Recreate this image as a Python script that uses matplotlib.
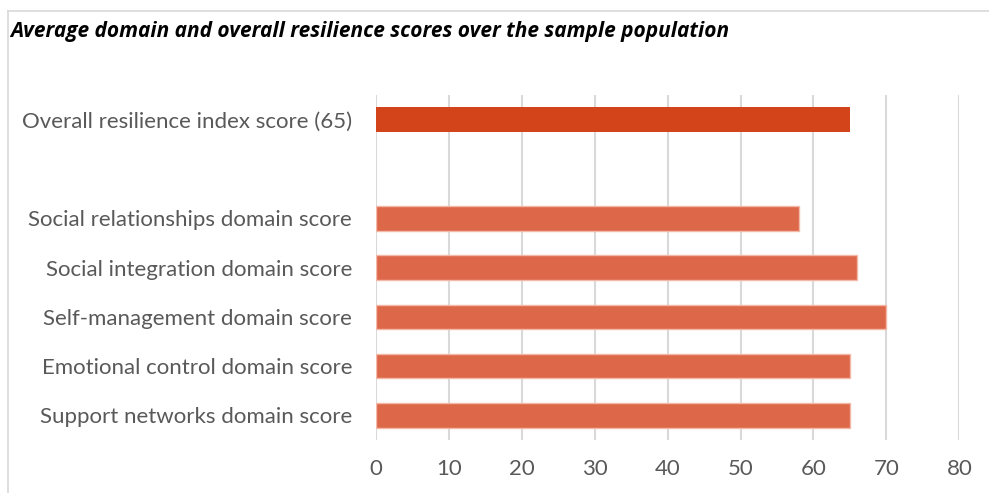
import matplotlib
matplotlib.use('Agg')
import matplotlib.pyplot as plt
from matplotlib.lines import Line2D

# data, top to bottom (None = empty slot)
categories = ['Overall resilience index score (65)', '',
              'Social relationships domain score',
              'Social integration domain score',
              'Self-management domain score',
              'Emotional control domain score',
              'Support networks domain score']
scores = [65, None, 58, 66, 70, 65, 65]
xticks = [0, 10, 20, 30, 40, 50, 60, 70, 80]

plt.rcParams['font.family'] = ['Lato', 'DejaVu Sans']

fig = plt.figure(figsize=(9.89, 4.93), dpi=100)
ax = fig.add_axes([0.380, 0.1075, 0.590, 0.6995])

n = len(categories)
ypos = list(range(n - 1, -1, -1))
for y, v, lab in zip(ypos, scores, categories):
    if v is None:
        continue
    if lab.startswith('Overall'):
        ax.barh(y, v, height=0.5, color='#D4441B', zorder=2)
    else:
        ax.barh(y, v, height=0.5, color='#DD6749', edgecolor='#F2B8A8',
                linewidth=1, zorder=2)

ax.set_yticks(ypos)
ax.set_yticklabels(categories, fontsize=16, color='#595959')
ax.set_ylim(-0.5, n - 0.5)
ax.set_xlim(0, 80)
ax.set_xticks(xticks)
ax.set_xticklabels([str(t) for t in xticks], fontsize=16, color='#595959')
ax.tick_params(axis='y', length=0, pad=17)
ax.tick_params(axis='x', length=0, pad=14)
ax.grid(axis='x', color='#D9D9D9', linewidth=1.5, zorder=0)
for s in ax.spines.values():
    s.set_visible(False)

fig.text(10 / 989, 1 - 32 / 493, 'Average domain and overall resilience scores over the sample population',
         fontsize=15, fontweight='bold', style='italic', color='black',
         family=['Open Sans', 'DejaVu Sans'], ha='left', va='center')

# chart frame (only top and left edges fall inside the picture)
fig.add_artist(Line2D([8 / 989, 1], [1 - 11 / 493] * 2, color='#D9D9D9', lw=1.2,
                      transform=fig.transFigure))
fig.add_artist(Line2D([8 / 989] * 2, [0, 1 - 11 / 493], color='#D9D9D9', lw=1.2,
                      transform=fig.transFigure))

fig.savefig('out.png', dpi=100)
